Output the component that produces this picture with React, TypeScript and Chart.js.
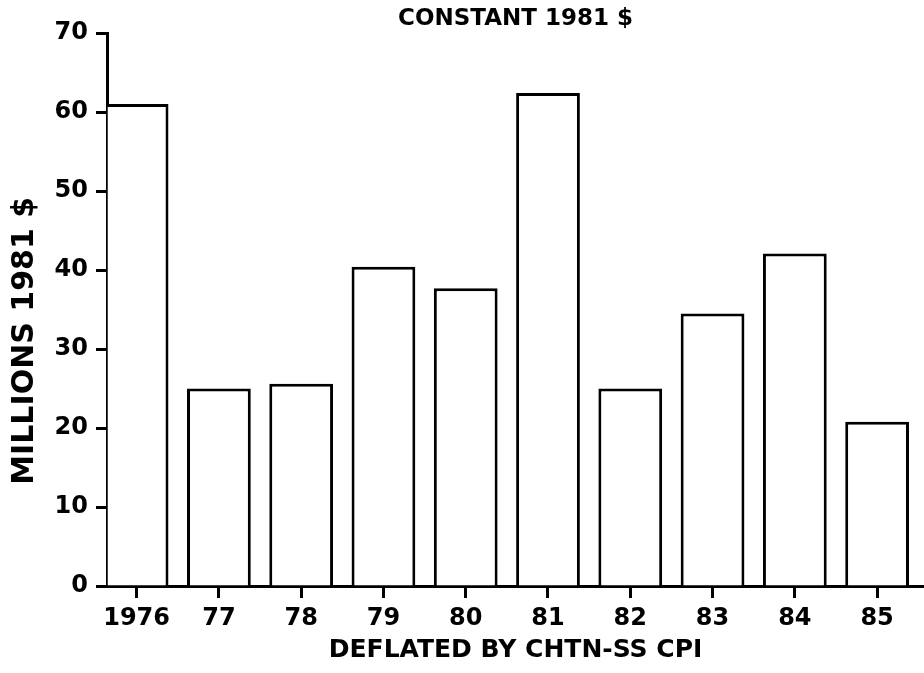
import { useEffect, useRef } from "react";
import { Chart, registerables } from "chart.js";

Chart.register(...registerables);

const categories = ["1976", "77", "78", "79", "80", "81", "82", "83", "84", "85"];
const values = [61, 25, 25.6, 40.4, 37.7, 62.4, 25, 34.5, 42.1, 20.8];
const yTicks = [0, 10, 20, 30, 40, 50, 60, 70];
const chartTitle = "CONSTANT 1981 $";
const xTitle = "DEFLATED BY CHTN-SS CPI";
const yTitle = "MILLIONS 1981 $";

const FAMILY = "'DejaVu Sans', sans-serif";
const INK = "#000";

export default function App() {
  const ref = useRef<HTMLCanvasElement>(null);

  useEffect(() => {
    if (!ref.current) return;
    const chart = new Chart(ref.current, {
      type: "bar",
      data: {
        datasets: [
          {
            data: values.map((v, i) => ({ x: i, y: v })),
            backgroundColor: "#fff",
            borderColor: INK,
            borderWidth: 3,
            borderSkipped: "bottom",
            barPercentage: 0.775,
            categoryPercentage: 1,
          },
        ],
      },
      options: {
        animation: false,
        responsive: false,
        layout: { padding: 0 },
        plugins: {
          legend: { display: false },
          tooltip: { enabled: false },
          title: {
            display: true,
            text: chartTitle,
            fullSize: false,
            color: INK,
            font: { family: FAMILY, size: 23, weight: "bold", lineHeight: 1.2 },
            padding: { top: 5.4, bottom: 0 },
          },
        },
        scales: {
          x: {
            type: "linear",
            offset: false,
            min: -0.36,
            max: 9.57,
            afterBuildTicks: (s: any) => {
              s.ticks = categories.map((_, i) => ({ value: i }));
            },
            afterFit: (s: any) => {
              s.height = 87;
            },
            ticks: {
              callback: (v: any) => categories[v as number] ?? "",
              color: INK,
              font: { family: FAMILY, size: 24, weight: "bold" },
              padding: 6,
              maxRotation: 0,
              autoSkip: false,
            },
            grid: {
              display: true,
              offset: false,
              drawOnChartArea: false,
              drawTicks: true,
              tickLength: 12,
              tickWidth: 3,
              tickColor: INK,
              color: INK,
            },
            border: { display: true, color: INK, width: 3 },
            title: {
              display: true,
              text: xTitle,
              color: INK,
              font: { family: FAMILY, size: 25, weight: "bold", lineHeight: 1.2 },
              padding: { top: 0, bottom: 8 },
            },
          },
          y: {
            type: "linear",
            min: 0,
            max: 70,
            afterBuildTicks: (s: any) => {
              s.ticks = yTicks.map((v) => ({ value: v }));
            },
            afterFit: (s: any) => {
              s.width = 107;
            },
            ticks: {
              color: INK,
              font: { family: FAMILY, size: 24, weight: "bold" },
              padding: 8,
            },
            grid: {
              display: true,
              drawOnChartArea: false,
              drawTicks: true,
              tickLength: 11,
              tickWidth: 3,
              tickColor: INK,
              color: INK,
            },
            border: { display: true, color: INK, width: 3 },
            title: {
              display: true,
              text: yTitle + "\u00a0\u00a0\u00a0\u00a0\u00a0\u00a0",
              color: INK,
              font: { family: FAMILY, size: 30, weight: "bold", lineHeight: 1.2 },
              padding: { top: 7, bottom: 0 },
            },
          },
        },
      },
    });
    return () => chart.destroy();
  }, []);

  return (
    <div
      style={{
        position: "fixed",
        left: 0,
        top: 0,
        width: 924,
        height: 673,
        background: "#fff",
      }}
    >
      <canvas ref={ref} width={924} height={673} style={{ display: "block" }} />
    </div>
  );
}
